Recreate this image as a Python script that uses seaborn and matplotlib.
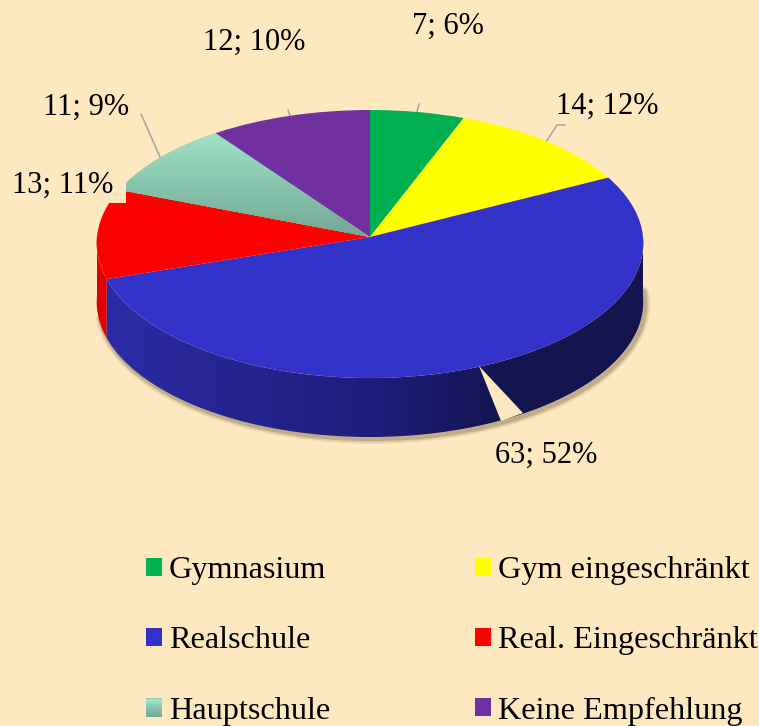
import numpy as np
import matplotlib
matplotlib.use("Agg")
import matplotlib.pyplot as plt
from matplotlib.patches import Polygon, Rectangle
from matplotlib.transforms import Transform
import seaborn as sns

categories = ["Gymnasium", "Gym eingeschränkt", "Realschule",
              "Real. Eingeschränkt", "Hauptschule", "Keine Empfehlung"]
values = [7, 14, 63, 13, 11, 12]
colors = ["#00b050", "#ffff00", "#3232c8", "#ff0000", "#8cc9b1", "#7030a0"]
bg = "#fee8c0"

sns.set_theme(style="white")
plt.rcParams['font.family'] = ['Liberation Serif', 'DejaVu Serif']
plt.rcParams['text.color'] = 'black'

CX, CY, RX = 370, 237, 273
DEPTH = 59


def project(x, y):
    # flat pie -> screen pixels, far side squeezed a bit for the perspective
    return CX + RX * x * (1 - 0.045 * y), CY - 134 * y + 7 * y ** 2


class Tilt(Transform):
    input_dims = 2
    output_dims = 2

    def transform_non_affine(self, values):
        px, py = project(values[:, 0], values[:, 1])
        return np.column_stack([px, py])


fig = plt.figure(figsize=(7.59, 7.26), dpi=100, facecolor=bg)
ax = fig.add_axes([0, 0, 1, 1])

wedges, _ = ax.pie(values, colors=colors, startangle=90, counterclock=False,
                   radius=1, wedgeprops=dict(linewidth=0, zorder=3))
ax.set_aspect('auto')
tilt = Tilt() + ax.transData
for w in wedges:
    w.set_transform(tilt)

# slice boundaries, clockwise from 12 o'clock
edges = np.concatenate([[0], np.cumsum(values)]) / sum(values) * 2 * np.pi


def wall(start, stop):
    t = np.linspace(start, stop, 120)
    x, y = project(np.sin(t), np.cos(t))
    return np.column_stack([np.r_[x, x[::-1]], np.r_[y, y[::-1] + DEPTH]])


# soft shadow under the front rim
t = np.linspace(np.pi / 2 - 0.05, 1.45 * np.pi, 200)
sx, sy = project(np.sin(t), np.cos(t))
for lw, a in [(7, 0.10), (5, 0.15), (3, 0.25)]:
    ax.plot(sx + 2, sy + DEPTH + 2, color="#6f6040", lw=lw, alpha=a, zorder=1,
            solid_capstyle='round')

# side walls: red sliver, then blue with its left to right shading
ax.add_patch(Polygon(wall(edges[3], 1.5 * np.pi), closed=True, fc="#e00000", lw=0, zorder=2))
blue_wall = Polygon(wall(np.pi / 2, edges[3]), closed=True, fc="none", lw=0, zorder=2)
ax.add_patch(blue_wall)
wall_cmap = sns.blend_palette(["#2c2ca8", "#25258f", "#1e1e7c", "#14144f", "#15154f"], as_cmap=True)
im = ax.imshow(np.linspace(0, 1, 256)[None, :], cmap=wall_cmap, extent=[100, 645, 445, 230],
               aspect='auto', zorder=2)
im.set_clip_path(blue_wall)

# Hauptschule slice has a vertical gradient
teal_cmap = sns.blend_palette(["#a0e4c8", "#72a795"], as_cmap=True)
im2 = ax.imshow(np.linspace(0, 1, 128)[:, None], cmap=teal_cmap, extent=[100, 380, 238, 130],
                aspect='auto', zorder=3.5)
im2.set_clip_path(wedges[4])

# notch in the wall below the 63; 52% label
ax.add_patch(Polygon([(479, 366), (501, 421), (523, 413)], closed=True, fc=bg, lw=0, zorder=5))
# label box of 13; 11% cuts into the pie
ax.add_patch(Rectangle((0, 163), 126, 40, fc=bg, lw=0, zorder=5))

# leader lines
for xs, ys in [([141, 160], [114, 157]), ([565, 557, 546], [125, 125, 142]),
               ([419, 417], [104, 112]), ([288, 290], [110, 116])]:
    ax.plot(xs, ys, color="#a8a8a8", lw=1.2, zorder=2.5)

# data labels
label_pos = [(448, 26), (607, 106), (546, 455), (63, 185), (86, 107), (254, 42)]
total = sum(values)
for v, (lx, ly) in zip(values, label_pos):
    ax.text(lx, ly, f"{v}; {round(100 * v / total)}%", ha='center', va='center',
            fontsize=22, color='black', zorder=6)

# legend fills by column, reference reads by row
order = [0, 2, 4, 1, 3, 5]
leg = ax.legend([wedges[i] for i in order], [categories[i] for i in order], ncols=2,
                loc='upper left', bbox_to_anchor=(134 / 759, 1 - 544 / 726),
                frameon=False, fontsize=23.2, handlelength=0.5, handleheight=0.5,
                handletextpad=0.21, labelspacing=1.28, columnspacing=4.48,
                borderpad=0.38, borderaxespad=0)
for t_ in leg.get_texts():
    t_.set_color('black')

ax.set_xlim(0, 759)
ax.set_ylim(726, 0)
ax.axis('off')

# gradient on the Hauptschule legend key, over the plain key
fig.canvas.draw()
key = leg.legend_handles[2].get_window_extent()
fig.figimage(np.linspace(0, 1, int(key.height))[:, None].repeat(int(key.width), axis=1),
             xo=int(key.x0), yo=int(key.y0), cmap=teal_cmap, origin='upper', zorder=7)

fig.savefig("out.png", dpi=100, facecolor=bg)
